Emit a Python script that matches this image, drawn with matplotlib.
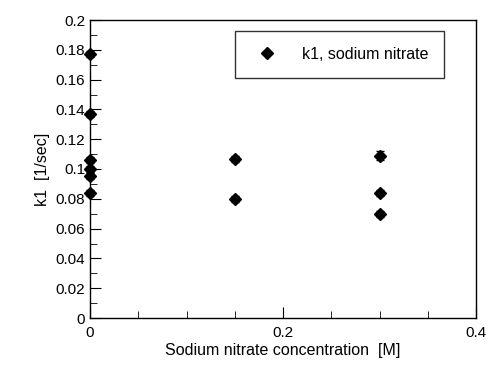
import numpy as np
import matplotlib.pyplot as plt
from matplotlib.ticker import MultipleLocator

conc = [0, 0, 0, 0, 0, 0, 0.15, 0.15, 0.3, 0.3, 0.3]
k1 = [0.177, 0.137, 0.106, 0.100, 0.095, 0.084, 0.107, 0.080, 0.109, 0.084, 0.070]
k1_err = [0.002, 0.002, 0.002, 0.002, 0.002, 0.002, 0.002, 0.002, 0.003, 0.002, 0.002]

plt.rcParams['font.family'] = ['Liberation Sans', 'DejaVu Sans']

fig = plt.figure(figsize=(4.88, 3.68), dpi=100)
ax = fig.add_axes([90 / 488, 50 / 368, 386 / 488, 298 / 368])

ax.errorbar(conc, k1, yerr=k1_err, fmt='none', ecolor='black',
            elinewidth=1, capsize=3, clip_on=False, zorder=3)
ax.plot(conc, k1, 'D', color='black', markersize=6, label='k1, sodium nitrate',
        clip_on=False, zorder=4)

ax.set_xlim(0, 0.4)
ax.set_ylim(0, 0.2)
ax.set_xticks([0, 0.2, 0.4])
ax.set_xticklabels(['0', '0.2', '0.4'])
ax.xaxis.set_minor_locator(MultipleLocator(0.05))
ax.set_yticks(np.arange(0, 0.201, 0.02))
ax.set_yticklabels(['0', '0.02', '0.04', '0.06', '0.08', '0.1', '0.12', '0.14', '0.16', '0.18', '0.2'])
ax.yaxis.set_minor_locator(MultipleLocator(0.01))
ax.tick_params(which='both', direction='in', top=False, right=False, labelsize=11)
ax.tick_params(which='major', length=8)
ax.tick_params(which='minor', length=5)
ax.tick_params(axis='x', pad=6)
for s in ax.spines.values():
    s.set_linewidth(1)

ax.set_xlabel('Sodium nitrate concentration  [M]', fontsize=11.5, labelpad=2)
ax.set_ylabel('k1  [1/sec]', fontsize=11.5, labelpad=4)

leg = ax.legend(loc='upper right', bbox_to_anchor=(0.93, 0.98), fontsize=11.5,
                frameon=True, fancybox=False, edgecolor='black', handletextpad=1.2,
                borderpad=1.0, borderaxespad=0.3)
leg.get_frame().set_linewidth(1)

fig.savefig('out.png', dpi=100)
